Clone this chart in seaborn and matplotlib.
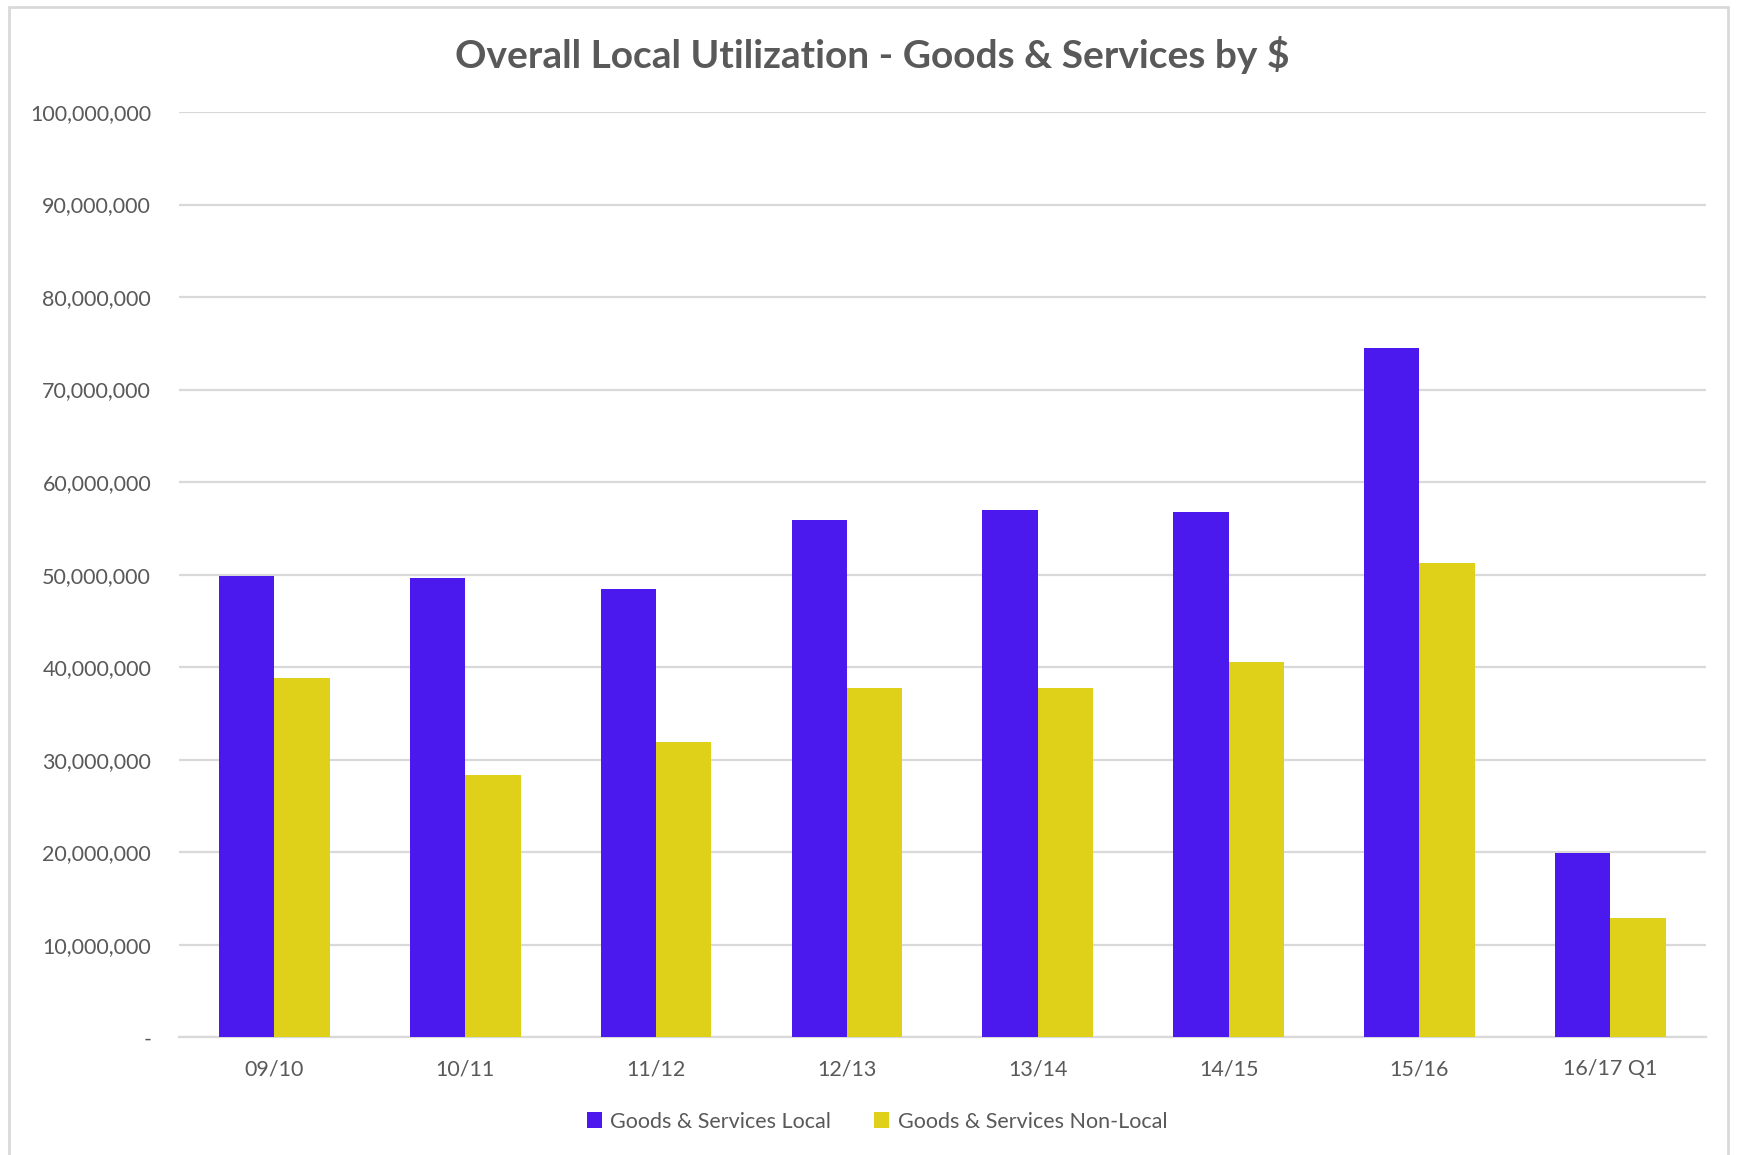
import matplotlib
matplotlib.use("Agg")
import matplotlib.pyplot as plt
import matplotlib.ticker as mticker
from matplotlib.patches import Rectangle
import pandas as pd
import seaborn as sns

years = ["09/10", "10/11", "11/12", "12/13", "13/14", "14/15", "15/16", "16/17 Q1"]
local = [49.8e6, 49.6e6, 48.4e6, 55.9e6, 57.0e6, 56.8e6, 74.5e6, 19.9e6]
non_local = [38.8e6, 28.3e6, 31.9e6, 37.7e6, 37.7e6, 40.6e6, 51.3e6, 12.9e6]
series = ["Goods & Services Local", "Goods & Services Non-Local"]
colors = ["#4B19EE", "#DFD11A"]

sns.set_theme(style="white")
plt.rcParams["font.family"] = ["Lato", "DejaVu Sans"]

df = pd.DataFrame({
    "year": years * 2,
    "value": local + non_local,
    "series": [series[0]] * len(years) + [series[1]] * len(years),
})

fig = plt.figure(figsize=(17.37, 11.55), dpi=100)
ax = fig.add_axes([0.103, 0.102, 0.879, 0.801])

sns.barplot(data=df, x="year", y="value", hue="series", order=years,
            hue_order=series, palette=colors, width=0.58, saturation=1,
            linewidth=0, ax=ax, zorder=3)

ax.set_ylim(0, 100e6)
ax.set_xlim(-0.5, len(years) - 0.5)
ax.yaxis.set_major_locator(mticker.MultipleLocator(10e6))
ax.yaxis.set_major_formatter(
    mticker.FuncFormatter(lambda v, _: "-" if v == 0 else f"{v:,.0f}"))
ax.grid(axis="y", color="#D9D9D9", linewidth=1.6, zorder=0)
ax.set_axisbelow(True)
for side in ["left", "right", "top"]:
    ax.spines[side].set_visible(False)
ax.spines["bottom"].set_color("#D9D9D9")
ax.spines["bottom"].set_linewidth(1.6)
ax.tick_params(axis="both", colors="#595959", labelsize=15.5, length=0)
ax.tick_params(axis="x", pad=16)
ax.tick_params(axis="y", pad=20)
ax.set_xlabel("")
ax.set_ylabel("")

fig.suptitle("Overall Local Utilization - Goods & Services by $",
             x=0.502, y=0.952, va="center", fontsize=28, fontweight="bold",
             color="#595959")

handles, labels = ax.get_legend_handles_labels()
ax.legend_.remove()
fig.legend(handles, labels, loc="center", bbox_to_anchor=(0.505, 0.029), ncol=2,
           frameon=False, fontsize=15.5, labelcolor="#595959", handlelength=0.7,
           handleheight=0.7, handletextpad=0.4, columnspacing=2.0)

fig.patches.append(Rectangle((0.005, -0.02), 0.99, 1.014, transform=fig.transFigure,
                             fill=False, edgecolor="#D9D9D9", linewidth=2))

fig.savefig("out.png", dpi=100)
